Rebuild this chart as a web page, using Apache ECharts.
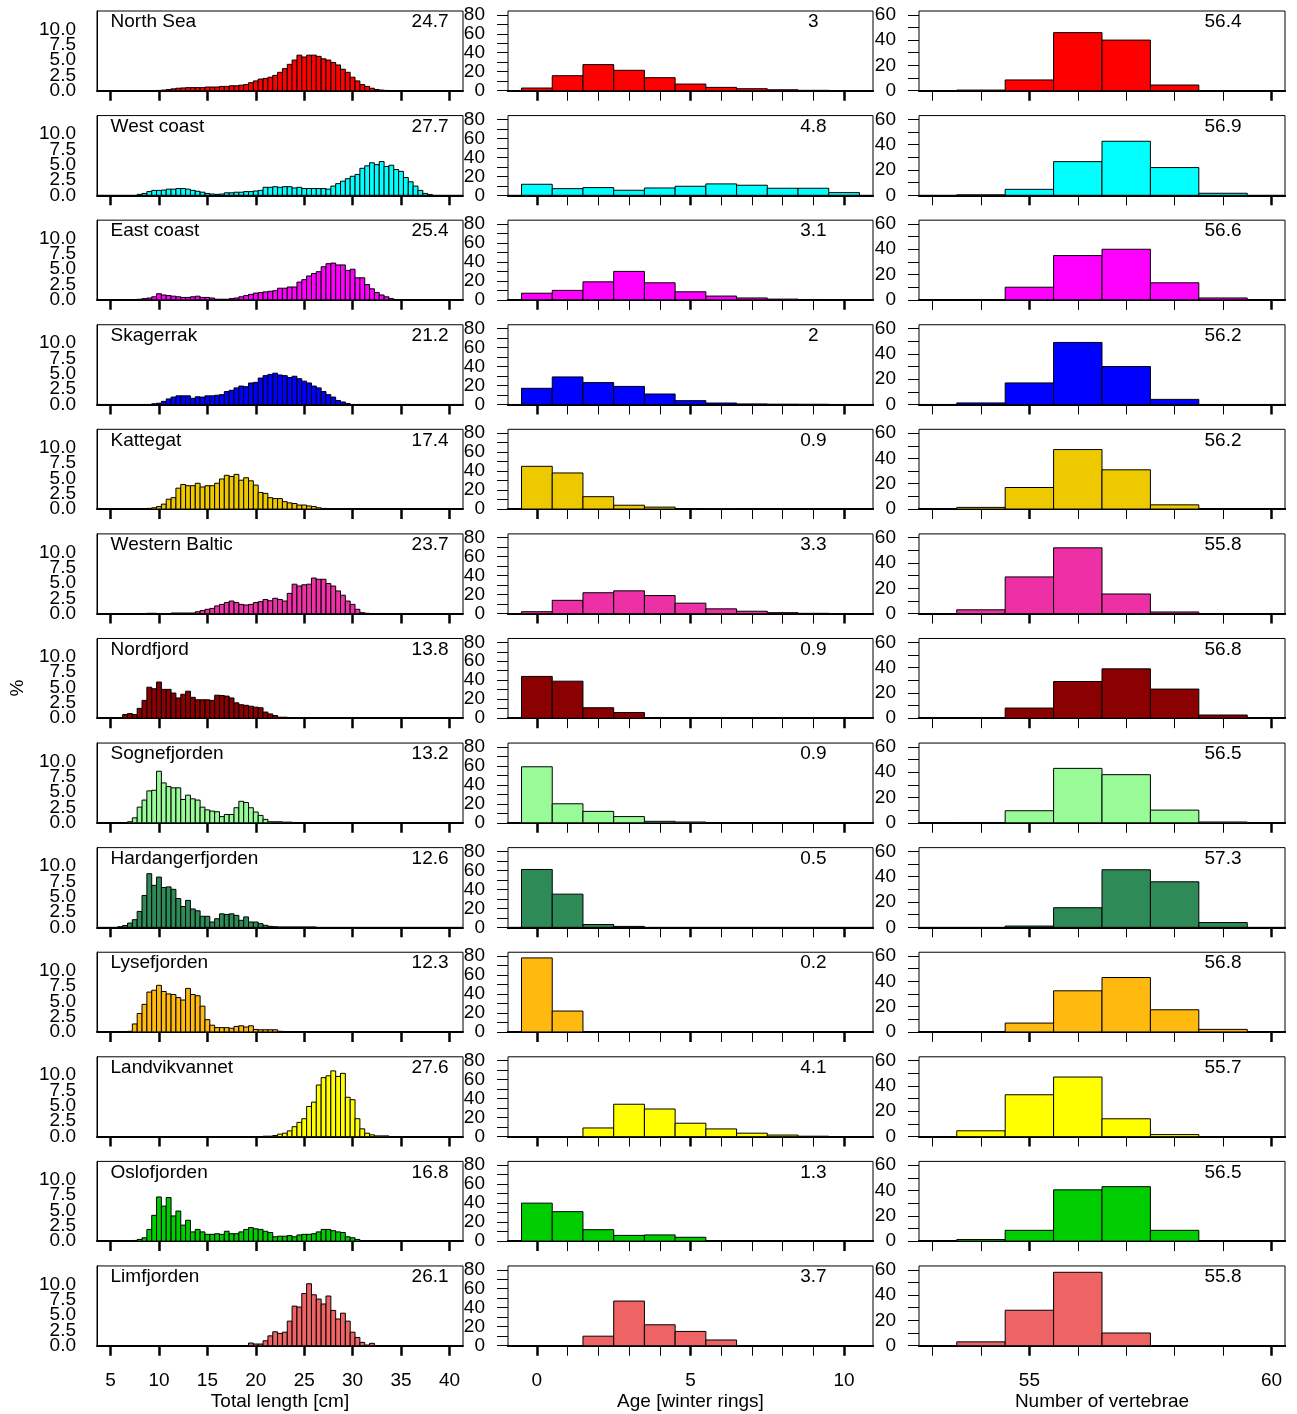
<!DOCTYPE html>
<html><head><meta charset="utf-8">
<script src="https://cdn.jsdelivr.net/npm/echarts@6/dist/echarts.min.js"></script>
<style>html,body{margin:0;padding:0;background:#fff}#c{width:1297px;height:1414px}</style>
</head><body><div id="c"></div>
<script>
const regions = ['North Sea','West coast','East coast','Skagerrak','Kattegat','Western Baltic','Nordfjord','Sognefjorden','Hardangerfjorden','Lysefjorden','Landvikvannet','Oslofjorden','Limfjorden'];
const colors = ['#FF0000','#00FFFF','#FF00FF','#0000FF','#EEC900','#EE30A7','#8B0000','#98FB98','#2E8B57','#FFB90F','#FFFF00','#00CD00','#EE6363'];
const lengthMeans = ['24.7','27.7','25.4','21.2','17.4','23.7','13.8','13.2','12.6','12.3','27.6','16.8','26.1'];
const ageMeans = ['3','4.8','3.1','2','0.9','3.3','0.9','0.9','0.5','0.2','4.1','1.3','3.7'];
const vertMeans = ['56.4','56.9','56.6','56.2','56.2','55.8','56.8','56.5','57.3','56.8','55.7','56.5','55.8'];

// length bins (cm, bin centres, 0.5 cm wide)
const lengthBins = [6,6.5,7,7.5,8,8.5,9,9.5,10,10.5,
 11,11.5,12,12.5,13,13.5,14,14.5,15,15.5,
 16,16.5,17,17.5,18,18.5,19,19.5,20,20.5,
 21,21.5,22,22.5,23,23.5,24,24.5,25,25.5,
 26,26.5,27,27.5,28,28.5,29,29.5,30,30.5,
 31,31.5,32,32.5,33,33.5,34,34.5,35,35.5,
 36,36.5,37,37.5,38,38.5];
const lenNorthSea = [0,0,0,0,0,0,0,0,0.05,0.1,
 0.2,0.3,0.4,0.45,0.5,0.5,0.5,0.5,0.6,0.6,
 0.6,0.7,0.7,0.8,0.8,0.9,1.0,1.3,1.6,1.9,
 2.0,2.2,2.5,3.0,3.6,4.3,5.0,5.8,5.5,5.8,
 5.8,5.6,5.2,5.0,4.6,4.2,3.5,3.0,2.2,1.6,
 1.0,0.7,0.4,0.2,0.1,0.05,0,0,0,0,
 0,0,0,0,0,0];
const lenWestCoast = [0,0,0,0,0.15,0.3,0.6,0.8,0.8,0.85,
 1.0,1.0,1.1,1.1,1.0,0.8,0.65,0.5,0.3,0.2,
 0.15,0.2,0.4,0.4,0.5,0.5,0.6,0.6,0.7,0.8,
 1.3,1.3,1.4,1.3,1.4,1.4,1.2,1.3,1.1,1.1,
 1.1,1.1,1.1,1.0,1.5,1.9,2.3,2.7,3.1,3.4,
 4.4,4.8,5.3,5.0,5.5,4.7,4.9,4.2,3.9,2.9,
 2.2,1.5,0.8,0.3,0.1,0];
const lenEastCoast = [0,0,0,0,0.1,0.2,0.3,0.5,1.0,0.8,
 0.7,0.6,0.5,0.4,0.4,0.5,0.6,0.4,0.4,0.3,
 0.1,0.1,0.1,0.2,0.3,0.5,0.7,0.9,1.1,1.2,
 1.3,1.4,1.5,1.9,1.9,2.1,2.1,2.9,3.3,3.9,
 4.3,4.6,5.4,5.9,6.0,5.7,5.7,4.8,5.0,3.6,
 3.6,2.5,1.8,1.2,0.8,0.5,0.2,0.05,0,0,
 0,0,0,0,0,0];
const lenSkagerrak = [0,0,0,0,0,0,0,0.1,0.2,0.5,
 0.9,1.2,1.4,1.4,1.4,1.0,1.25,1.2,1.4,1.4,
 1.5,1.6,2.1,2.3,2.7,3.0,2.9,3.5,3.6,4.3,
 4.7,4.9,5.1,4.8,4.7,4.4,4.6,4.2,3.8,3.5,
 3.0,2.7,2.1,1.6,1.2,0.65,0.4,0.15,0,0,
 0,0,0,0,0,0,0,0,0,0,
 0,0,0,0,0,0];
const lenKattegat = [0,0,0,0,0,0,0.1,0.2,0.4,0.8,
 1.6,1.85,3.4,4.0,3.8,3.8,4.2,3.6,3.8,3.8,
 4.2,4.9,5.5,5.3,5.65,4.7,5.1,4.6,3.9,2.7,
 2.55,1.85,1.7,1.7,1.2,1.0,0.9,0.65,0.65,0.5,
 0.4,0.2,0.1,0.05,0.05,0.05,0.05,0,0,0,
 0,0,0,0,0,0,0,0,0,0,
 0,0,0,0,0,0];
const lenWesternBaltic = [0,0,0,0,0,0,0.05,0.05,0,0,
 0,0.1,0.1,0.1,0.1,0.1,0.3,0.5,0.7,0.85,
 1.25,1.5,1.8,2.05,1.8,1.5,1.4,1.5,1.8,1.95,
 2.3,2.1,2.5,2.3,2.05,3.3,4.8,4.5,4.7,4.8,
 5.8,5.6,5.6,4.9,4.5,3.7,3.0,2.05,1.5,0.7,
 0.15,0.05,0,0,0,0,0,0,0,0,
 0,0,0,0,0,0];
const lenNordfjord = [0.1,0.6,0.75,0.6,1.6,2.9,5.05,4.8,5.9,4.7,
 4.7,4.1,3.3,3.9,4.4,3.4,3.0,3.0,3.0,2.9,
 3.75,3.7,3.6,3.3,2.5,2.2,2.1,1.95,1.8,1.7,
 1.0,0.7,0.43,0.16,0.16,0.05,0.05,0,0,0,
 0,0,0,0,0,0,0,0,0,0,
 0,0,0,0,0,0,0,0,0,0,
 0,0,0,0,0,0];
const lenSognefjorden = [0,0,0.16,0.8,2.55,3.7,5.2,5.3,8.4,6.5,
 5.9,5.7,5.7,3.8,4.5,3.9,3.7,2.55,2.1,1.9,
 1.8,1.0,1.35,1.35,2.45,3.5,3.3,2.45,1.75,1.2,
 0.55,0.16,0.16,0.16,0.1,0.1,0.05,0,0,0,
 0,0,0,0,0,0,0,0,0,0,
 0,0,0,0,0,0,0,0,0,0,
 0,0,0,0,0,0];
const lenHardangerfjorden = [0.1,0.3,0.7,1.25,2.6,5.2,8.75,6.85,8.2,6.5,
 6.6,6.2,4.7,3.4,4.4,3.0,2.7,1.8,1.8,0.87,
 1.4,2.2,2.1,2.2,1.95,1.15,1.7,0.87,0.87,0.6,
 0.33,0.16,0.1,0.05,0.05,0.05,0.05,0.05,0.05,0.05,
 0.05,0,0,0,0,0,0,0,0,0,
 0,0,0,0,0,0,0,0,0,0,
 0,0,0,0,0,0];
const lenLysefjorden = [0,0,0.1,1.3,3.0,4.5,6.5,6.8,7.6,6.6,
 6.2,6.1,5.6,5.2,7.1,6.1,5.9,4.2,2.0,1.1,
 0.7,0.7,0.7,0.6,0.9,1.0,0.8,1.0,0.4,0.35,
 0.35,0.35,0.35,0.1,0,0,0,0,0,0,
 0,0,0,0,0,0,0,0,0,0,
 0,0,0,0,0,0,0,0,0,0,
 0,0,0,0,0,0];
const lenLandvikvannet = [0,0,0,0,0,0,0,0,0,0,
 0,0,0,0,0,0,0,0,0,0,
 0,0,0,0,0,0,0,0,0,0,
 0.05,0.05,0.16,0.38,0.54,0.92,1.6,2.3,2.9,4.9,
 5.6,8.4,9.6,9.9,10.7,9.8,10.3,6.4,6.0,2.9,
 1.25,0.54,0.27,0.1,0.1,0.1,0,0,0,0,
 0,0,0,0,0,0];
const lenOslofjorden = [0,0,0,0.1,0.27,0.54,1.9,4.2,7.2,5.7,
 7.1,4.1,4.9,2.6,3.4,1.5,1.9,1.5,1.1,1.1,
 1.2,1.1,1.6,1.2,1.2,1.5,1.9,2.2,2.0,1.9,
 1.6,1.4,0.7,0.8,0.8,0.9,0.7,1.0,1.1,1.1,
 1.2,1.5,1.9,1.9,1.7,1.5,1.4,0.7,0.54,0.27,
 0,0,0,0,0,0,0,0,0,0,
 0,0,0,0,0,0];
const lenLimfjorden = [0,0,0,0,0,0,0,0,0,0,
 0,0,0,0,0,0,0,0,0,0,
 0,0,0,0,0,0,0,0.43,0.27,0.27,
 0.8,1.6,2.26,2.0,2.2,4.0,6.45,6.3,8.5,10.1,
 8.3,7.6,6.8,8.1,5.75,4.35,5.3,4.0,2.2,1.34,
 0.54,0.1,0.38,0,0,0,0,0,0,0,
 0,0,0,0,0,0];
const lengthPct = [lenNorthSea,lenWestCoast,lenEastCoast,lenSkagerrak,lenKattegat,lenWesternBaltic,lenNordfjord,lenSognefjorden,lenHardangerfjorden,lenLysefjorden,lenLandvikvannet,lenOslofjorden,lenLimfjorden];

// age (winter rings)
const ageBins = [0,1,2,3,4,5,6,7,8,9,10];
const ageNorthSea = [2.8,15.8,27.5,21.5,13.7,7,3.5,2.1,1,0.4,0];
const ageWestCoast = [11.6,7,8.1,5.3,7.7,9.5,12,10.6,7.4,7.4,2.8];
const ageEastCoast = [7,10,19,30,18,8.5,4,2,0.8,0.4,0.2];
const ageSkagerrak = [17,29,23,19,11,4,1.5,0.5,0.2,0.1,0];
const ageKattegat = [45,38,13,4,2,0.5,0.2,0,0,0,0];
const ageWesternBaltic = [2,14,22,24,19,11,5,2.5,1,0.3,0];
const ageNordfjord = [44,39,11,6,0,0,0,0,0,0,0];
const ageSognefjorden = [59,20,12,6.5,1.5,0.8,0,0,0,0,0];
const ageHardangerfjorden = [61,35,3,1,0,0,0,0,0,0,0];
const ageLysefjorden = [78,22,0,0,0,0,0,0,0,0,0];
const ageLandvikvannet = [0,0,9,34,29,14,8,3.5,1.5,0.3,0];
const ageOslofjorden = [40,31,12,6,6.5,4,0,0,0,0,0];
const ageLimfjorden = [0,0,10,47,22,15,6,0,0,0,0];
const agePct = [ageNorthSea,ageWestCoast,ageEastCoast,ageSkagerrak,ageKattegat,ageWesternBaltic,ageNordfjord,ageSognefjorden,ageHardangerfjorden,ageLysefjorden,ageLandvikvannet,ageOslofjorden,ageLimfjorden];

// number of vertebrae
const vertBins = [54,55,56,57,58,59];
const vertNorthSea = [0.5,8.5,45.9,40,4.5,0];
const vertWestCoast = [0.3,4.7,26.6,42.7,21.9,1.6];
const vertEastCoast = [0.3,10,35,40,13.5,1.5];
const vertSkagerrak = [1.2,17,49,30,4,0];
const vertKattegat = [1.3,17,47,31,3.3,0];
const vertWesternBaltic = [3,29,52,15.5,1.3,0];
const vertNordfjord = [0.2,8,29,39,23,2.5];
const vertSognefjorden = [0.2,9.5,43,38,10,0.6];
const vertHardangerfjorden = [0,1,15.5,45.5,36,3.8];
const vertLysefjorden = [0.2,7,32.5,43,17.5,2];
const vertLandvikvannet = [4.5,33,47,14,1.5,0];
const vertOslofjorden = [1.2,8.5,40.5,43,8.5,0];
const vertLimfjorden = [3,28,58,10,0,0];
const vertPct = [vertNorthSea,vertWestCoast,vertEastCoast,vertSkagerrak,vertKattegat,vertWesternBaltic,vertNordfjord,vertSognefjorden,vertHardangerfjorden,vertLysefjorden,vertLandvikvannet,vertOslofjorden,vertLimfjorden];

// axis ticks / labels
const lenTicks = [5,10,15,20,25,30,35,40];
const ageMajorTicks = [0,5,10];
const ageMinorTicks = [1,2,3,4,6,7,8,9];
const vertMajorTicks = [55,60];
const vertMinorTicks = [53,54,56,57,58,59];
const lenYLabelsA = [0,5,10];
const lenYLabelsB = [2.5,7.5];
const ageYTicks = [0,10,20,30,40,50,60,70,80];
const ageYLabels = [0,20,40,60,80];
const vertYTicks = [0,10,20,30,40,50,60];
const vertYLabels = [0,20,40,60];
const axisTitles = ['Total length [cm]','Age [winter rings]','Number of vertebrae'];

// layout
const FONT = 'Liberation Sans, Arial, Helvetica, sans-serif';
const FS = 19;
const rowTop0 = 11, rowStep = 104.58, panelH = 79.7;
const colLeft = [97, 508, 919], colWidth = [366, 365, 366];
const xRanges = [[3.6,41.4],[-0.94,10.94],[52.72,60.28]];
const yMax = [13, 84, 63];
const halfW = [0.25, 0.5, 0.5];
const binsByCol = [lengthBins, ageBins, vertBins];
const pctByCol = [lengthPct, agePct, vertPct];
const meanByCol = [lengthMeans, ageMeans, vertMeans];
const meanPos = [38, 9, 59];
const majorTicks = [lenTicks, ageMajorTicks, vertMajorTicks];
const minorTicks = [null, ageMinorTicks, vertMinorTicks];
const yTicks = [null, ageYTicks, vertYTicks];
const yLabels = [null, ageYLabels, vertYLabels];

function px(c, v) {
  return colLeft[c] + (v - xRanges[c][0]) / (xRanges[c][1] - xRanges[c][0]) * colWidth[c];
}
function makeRender(hw, color) {
  return function (params, api) {
    const x = api.value(0), y = api.value(1);
    const p1 = api.coord([x - hw, y]);
    const p2 = api.coord([x + hw, 0]);
    return {type: 'rect', shape: {x: p1[0], y: p1[1], width: p2[0] - p1[0], height: p2[1] - p1[1]},
      style: {fill: color, stroke: '#000', lineWidth: 1}};
  };
}
function lenYAxis(gi, values) {
  return {type: 'value', gridIndex: gi, position: 'left', min: 0, max: yMax[0],
    axisLine: {show: true, onZero: false, lineStyle: {color: '#000', width: 1}},
    axisTick: {show: false},
    axisLabel: {show: true, customValues: values, margin: 21, fontSize: FS, fontFamily: FONT, color: '#000',
      lineHeight: 12, hideOverlap: false, showMinLabel: true, showMaxLabel: true,
      formatter: v => Number(v).toFixed(1)},
    splitLine: {show: false}};
}

const grids = [], xAxes = [], yAxes = [], series = [], graphics = [];
const nRows = regions.length;
regions.forEach((name, r) => {
  const top = rowTop0 + r * rowStep;
  const last = r === nRows - 1;
  for (let c = 0; c < 3; c++) {
    const gi = grids.length;
    grids.push({left: colLeft[c], top: top, width: colWidth[c], height: panelH, show: true,
      borderColor: '#000', borderWidth: 1});
    const mainX = xAxes.length;
    xAxes.push({type: 'value', gridIndex: gi, position: 'bottom', min: xRanges[c][0], max: xRanges[c][1],
      axisLine: {show: true, onZero: false, lineStyle: {color: '#000', width: 2}},
      axisTick: {show: true, length: 10, customValues: majorTicks[c], lineStyle: {color: '#000', width: 2.5}},
      axisLabel: {show: last, customValues: majorTicks[c], margin: 26, fontSize: FS, fontFamily: FONT, color: '#000',
        hideOverlap: false, showMinLabel: true, showMaxLabel: true},
      splitLine: {show: false},
      name: last ? axisTitles[c] : '', nameLocation: 'middle', nameGap: 47,
      nameTextStyle: {fontSize: FS, fontFamily: FONT, color: '#000'}});
    if (minorTicks[c]) {
      xAxes.push({type: 'value', gridIndex: gi, position: 'bottom', min: xRanges[c][0], max: xRanges[c][1],
        axisLine: {show: true, onZero: false, lineStyle: {color: '#000', width: 2}},
        axisTick: {show: true, length: 10, customValues: minorTicks[c], lineStyle: {color: '#000', width: 1}},
        axisLabel: {show: false}, splitLine: {show: false}});
    }
    const mainY = yAxes.length;
    if (c === 0) {
      yAxes.push(lenYAxis(gi, lenYLabelsA));
      yAxes.push(lenYAxis(gi, lenYLabelsB));
    } else {
      yAxes.push({type: 'value', gridIndex: gi, min: 0, max: yMax[c],
        axisLine: {show: false, onZero: false},
        axisTick: {show: true, length: 11, customValues: yTicks[c], lineStyle: {color: '#000', width: 1}},
        axisLabel: {customValues: yLabels[c], margin: 23, fontSize: FS, fontFamily: FONT, color: '#000'},
        splitLine: {show: false}});
    }
    const bins = binsByCol[c], vals = pctByCol[c][r];
    const data = [];
    bins.forEach((b, k) => { if (vals[k] > 0) data.push([b, vals[k]]); });
    series.push({type: 'custom', xAxisIndex: mainX, yAxisIndex: mainY, data: data, clip: true,
      encode: {x: 0, y: 1}, renderItem: makeRender(halfW[c], colors[r]), silent: true, z: 3});
    graphics.push({type: 'text', x: px(c, meanPos[c]), y: top + 11, z: 10,
      style: {text: meanByCol[c][r], fill: '#000', font: FS + 'px ' + FONT, textAlign: 'center', align: 'center', textVerticalAlign: 'middle', verticalAlign: 'middle'}});
  }
  graphics.push({type: 'text', x: px(0, 5), y: top + 11, z: 10,
    style: {text: name, fill: '#000', font: FS + 'px ' + FONT, textAlign: 'left', align: 'left', textVerticalAlign: 'middle', verticalAlign: 'middle'}});
});
graphics.push({type: 'text', x: 18, y: 688, rotation: Math.PI / 2, z: 10,
  style: {text: '%', fill: '#000', font: FS + 'px ' + FONT, textAlign: 'center', align: 'center', textVerticalAlign: 'middle', verticalAlign: 'middle'}});

const chart = echarts.init(document.getElementById('c'), null, {renderer: 'canvas'});
chart.setOption({
  animation: false,
  backgroundColor: '#fff',
  textStyle: {fontFamily: FONT},
  grid: grids, xAxis: xAxes, yAxis: yAxes, series: series, graphic: graphics
});
</script>
</body></html>
